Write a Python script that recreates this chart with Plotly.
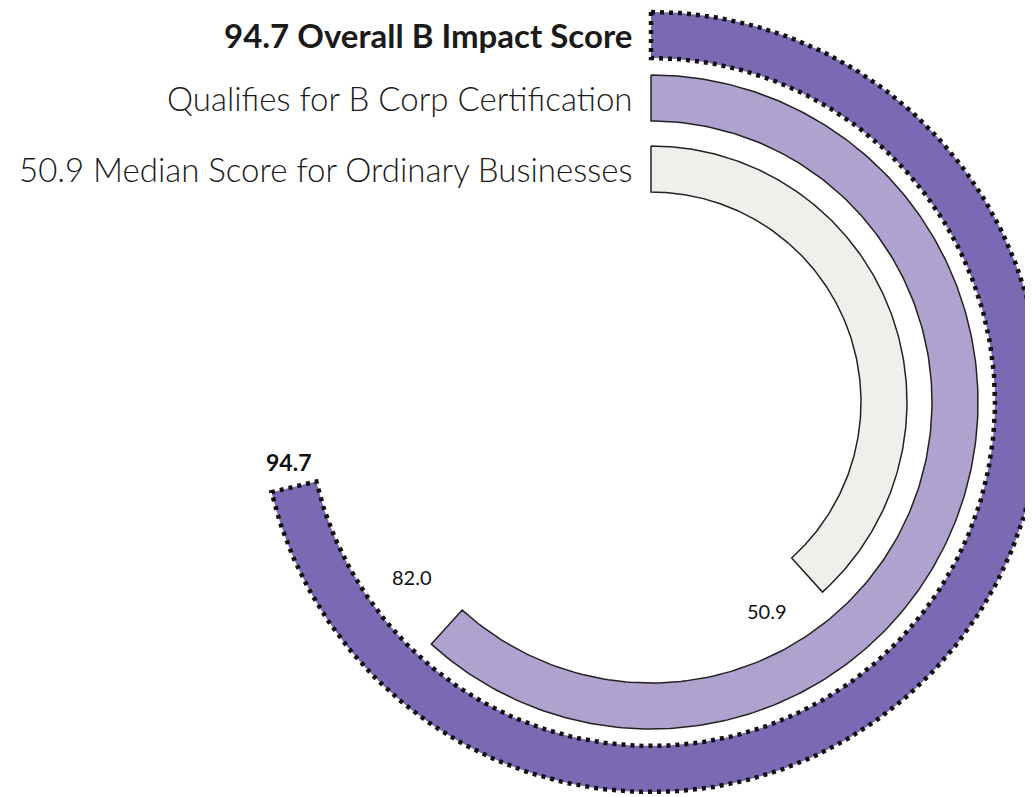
import numpy as np
import plotly.graph_objects as go

# ---- data ----
labels = ["94.7 Overall B Impact Score",
          "Qualifies for B Corp Certification",
          "50.9 Median Score for Ordinary Businesses"]
values = [94.7, 82.0, 50.9]
value_text = ["94.7", "82.0", "50.9"]
scale_max = 100.0          # 100 points = ~271 degrees of sweep
sweep_at_max = 271.0

# ---- style ----
PAGE_OFFSET = 8            # default body margin of the html page
W, H = 1033, 797
CX, CY = 651 - PAGE_OFFSET, 402 - PAGE_OFFSET   # ring centre in figure pixels
radii = [(344, 390), (281, 327), (210, 256)]
fills = ["#7b69b4", "#afa2ce", "#f0efec"]
line_colors = ["#111111", "#222222", "#222222"]
bold = [True, False, False]
label_offsets = [(4.0, 0), (11.5, -8), (13.0, 6)]  # (deg past end, radial shift)

fig = go.Figure()

def arc_polygon(theta_deg, r0, r1, n=240):
    t = np.radians(np.linspace(0, theta_deg, n))
    xo, yo = r1 * np.sin(t), r1 * np.cos(t)
    xi, yi = r0 * np.sin(t[::-1]), r0 * np.cos(t[::-1])
    x = np.concatenate([xo, xi, xo[:1]])
    y = np.concatenate([yo, yi, yo[:1]])
    return x, y

for i, v in enumerate(values):
    theta = v / scale_max * sweep_at_max
    r0, r1 = radii[i]
    x, y = arc_polygon(theta, r0, r1)
    if i == 0:
        fig.add_trace(go.Scatter(x=x, y=y, mode="lines", fill="toself",
                                 fillcolor=fills[i], line=dict(width=0),
                                 hoverinfo="skip", showlegend=False))
        fig.add_trace(go.Scatter(x=x, y=y, mode="lines",
                                 line=dict(color=line_colors[i], width=4.5, dash="4px,5px"),
                                 hoverinfo="skip", showlegend=False))
    else:
        fig.add_trace(go.Scatter(x=x, y=y, mode="lines", fill="toself",
                                 fillcolor=fills[i],
                                 line=dict(color=line_colors[i], width=1.5),
                                 hoverinfo="skip", showlegend=False))
    # category label to the left of the arc start
    fig.add_annotation(x=-17, y=(r0 + r1) / 2, text=labels[i], showarrow=False,
                       xanchor="right", yanchor="middle",
                       font=dict(family="Lato", size=33,
                                 color="#1a1a1a",
                                 weight=700 if bold[i] else 300))
    # value label near the arc end
    da, dr = label_offsets[i]
    a = np.radians(theta + da)
    rr = (r0 + r1) / 2 + dr
    fig.add_annotation(x=rr * np.sin(a), y=rr * np.cos(a), text=value_text[i],
                       showarrow=False, xanchor="center", yanchor="middle",
                       font=dict(family="Lato", size=23 if i == 0 else 20,
                                 color="#111111",
                                 weight=700 if bold[i] else 400))

fig.update_layout(
    width=W, height=H,
    margin=dict(l=0, r=0, t=0, b=0),
    paper_bgcolor="white", plot_bgcolor="white",
    xaxis=dict(range=[-CX, W - CX], visible=False, fixedrange=True),
    yaxis=dict(range=[-(H - CY), CY], visible=False, fixedrange=True),
    showlegend=False,
)

fig.write_html("out.html")
